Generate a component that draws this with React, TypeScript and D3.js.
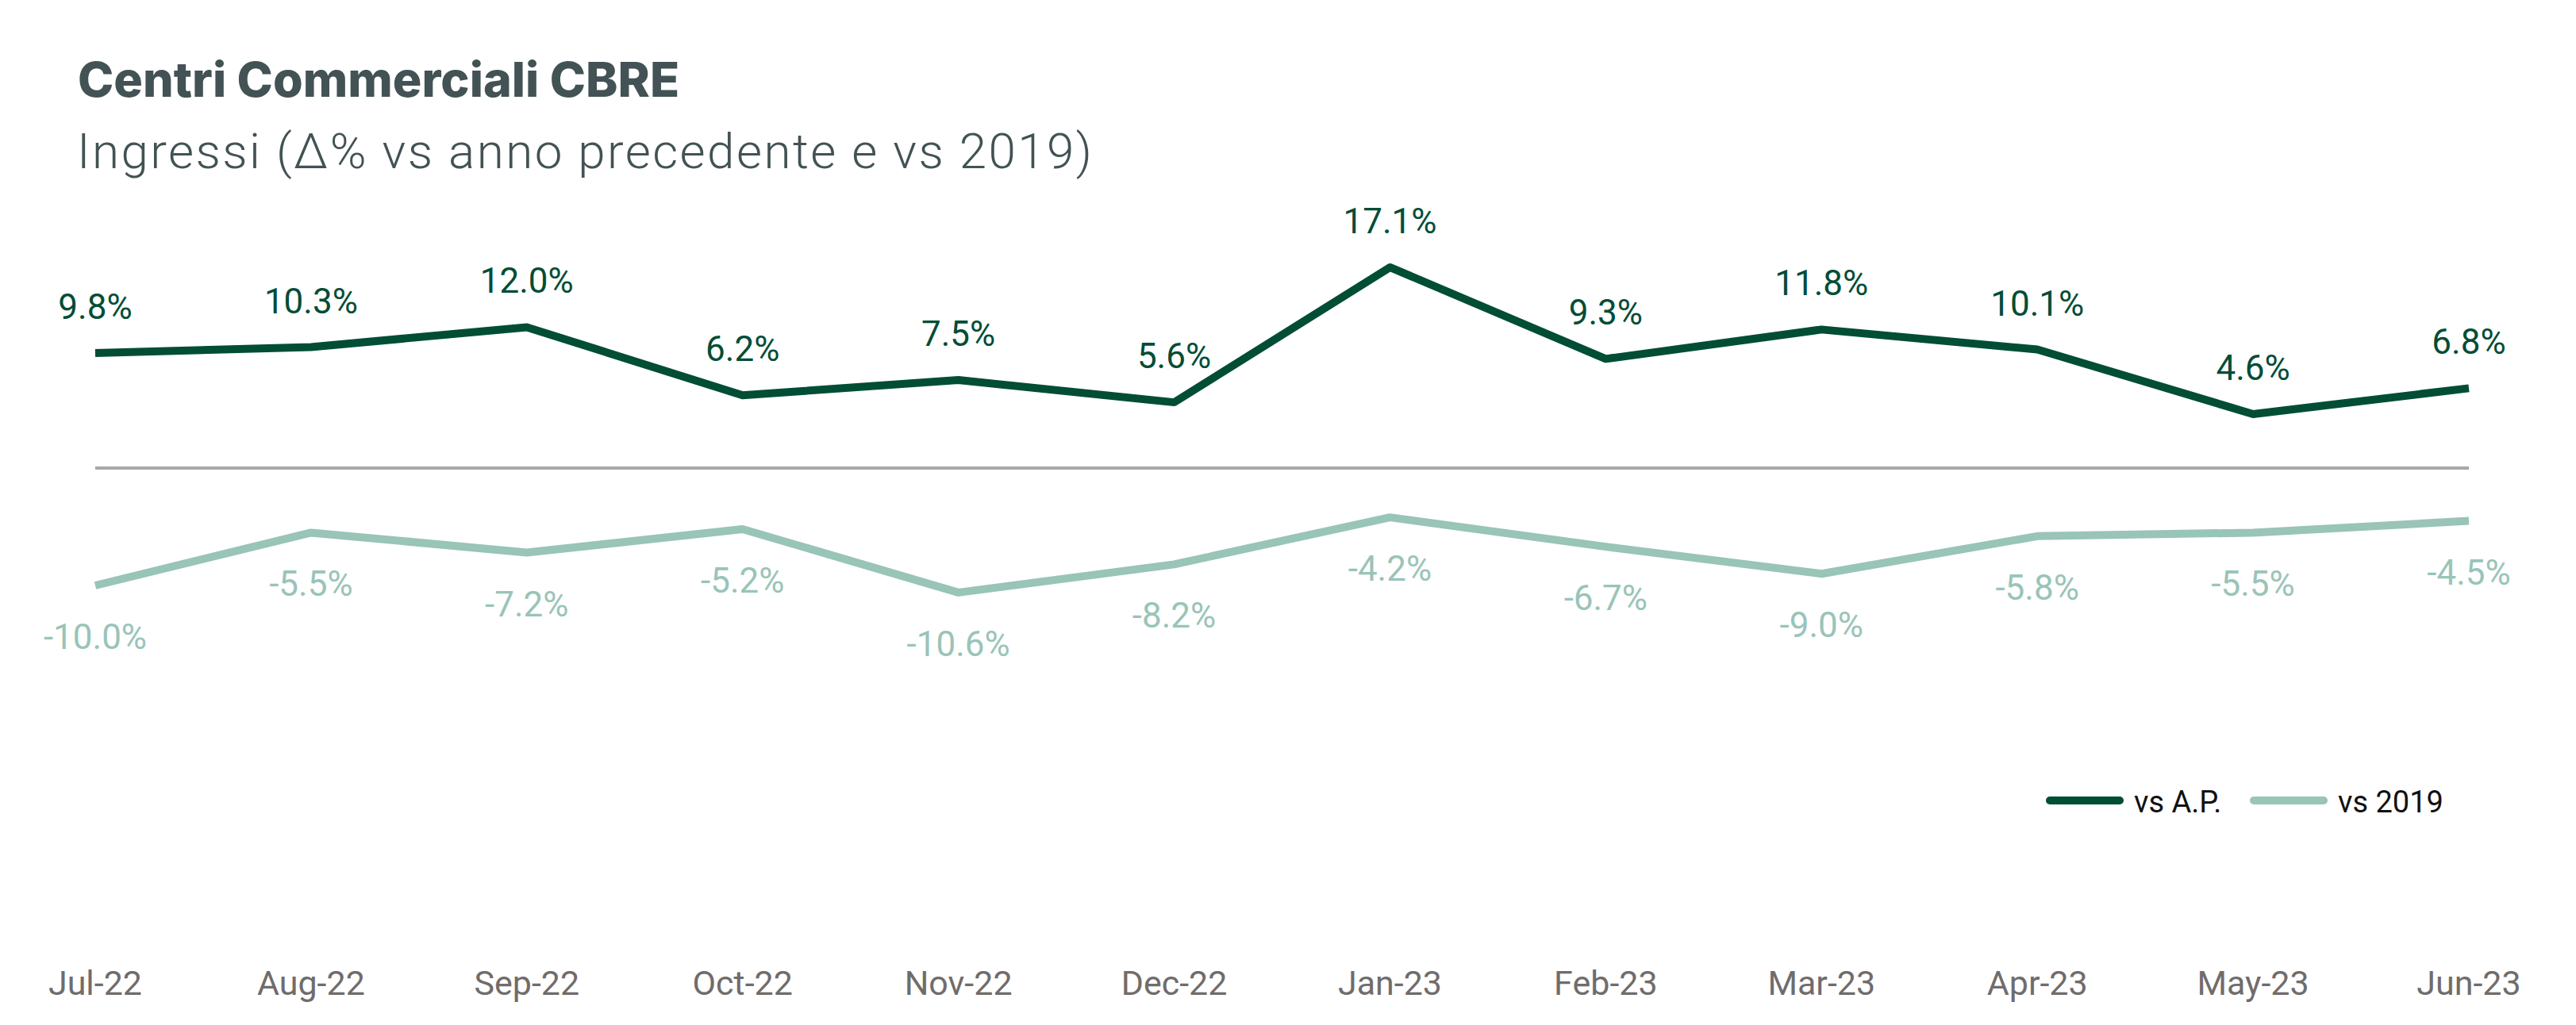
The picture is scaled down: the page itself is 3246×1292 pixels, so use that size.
import { useEffect, useRef } from 'react'
import * as d3 from 'd3'

// Chart data
const months = ['Jul-22', 'Aug-22', 'Sep-22', 'Oct-22', 'Nov-22', 'Dec-22', 'Jan-23', 'Feb-23', 'Mar-23', 'Apr-23', 'May-23', 'Jun-23']
const vsAP = [9.8, 10.3, 12.0, 6.2, 7.5, 5.6, 17.1, 9.3, 11.8, 10.1, 4.6, 6.8]
const vs2019 = [-10.0, -5.5, -7.2, -5.2, -10.6, -8.2, -4.2, -6.7, -9.0, -5.8, -5.5, -4.5]
const seriesNames = ['vs A.P.', 'vs 2019']

const W = 3246
const H = 1292
const DARK = '#024d36'
const LIGHT = '#99c4b8'
const FONT = "Roboto, 'Noto Sans', sans-serif"

export default function App() {
  const svgRef = useRef<SVGSVGElement>(null)

  useEffect(() => {
    document.body.style.margin = '0'
    if (!svgRef.current) return
    const svg = d3.select(svgRef.current)
    svg.selectAll('*').remove()

    svg.append('rect').attr('width', W).attr('height', H).attr('fill', '#fff')

    // Titles
    svg.append('text')
      .attr('x', 98).attr('y', 122)
      .attr('font-family', "Inter, Roboto, sans-serif").attr('font-weight', 800)
      .attr('font-size', 61).attr('fill', '#435254')
      .text('Centri Commerciali CBRE')
    svg.append('text')
      .attr('x', 97).attr('y', 212)
      .attr('font-family', FONT).attr('font-weight', 300)
      .attr('font-size', 62).attr('letter-spacing', 2.4)
      .attr('fill', '#435254')
      .text('Ingressi (Δ% vs anno precedente e vs 2019)')

    // Scales
    const x = d3.scalePoint<string>().domain(months).range([120, 3111])
    const y = d3.scaleLinear().domain([-30, 25]).range([1034, 220])

    // Zero line
    svg.append('line')
      .attr('x1', x(months[0])!).attr('x2', x(months[months.length - 1])!)
      .attr('y1', y(0)).attr('y2', y(0))
      .attr('stroke', '#aaa8a8').attr('stroke-width', 4)

    const line = d3.line<number>()
      .x((_, i) => x(months[i])!)
      .y(d => y(d))

    const series = [
      { values: vsAP, color: DARK, above: true },
      { values: vs2019, color: LIGHT, above: false },
    ]

    series.forEach(s => {
      svg.append('path')
        .datum(s.values)
        .attr('d', line)
        .attr('fill', 'none')
        .attr('stroke', s.color)
        .attr('stroke-width', 10)
        .attr('stroke-linejoin', 'round')

      svg.append('g')
        .selectAll('text')
        .data(s.values)
        .join('text')
        .attr('x', (_, i) => x(months[i])!)
        .attr('y', d => s.above ? y(d) - 43 : y(d) + 80)
        .attr('text-anchor', 'middle')
        .attr('font-family', FONT)
        .attr('font-size', 44)
        .attr('fill', s.color)
        .text(d => `${d.toFixed(1)}%`)
    })

    // X axis labels
    svg.append('g')
      .selectAll('text')
      .data(months)
      .join('text')
      .attr('x', d => x(d)!)
      .attr('y', 1254)
      .attr('text-anchor', 'middle')
      .attr('font-family', FONT)
      .attr('font-size', 43)
      .attr('fill', '#706c6b')
      .text(d => d)

    // Legend
    const legend = [
      { name: seriesNames[0], color: DARK, x0: 2583 },
      { name: seriesNames[1], color: LIGHT, x0: 2840 },
    ]
    const lg = svg.append('g')
    legend.forEach(l => {
      lg.append('line')
        .attr('x1', l.x0).attr('x2', l.x0 + 88)
        .attr('y1', 1009).attr('y2', 1009)
        .attr('stroke', l.color).attr('stroke-width', 10)
        .attr('stroke-linecap', 'round')
      lg.append('text')
        .attr('x', l.x0 + 106).attr('y', 1024)
        .attr('font-family', FONT).attr('font-size', 38)
        .attr('fill', '#111')
        .text(l.name)
    })
  }, [])

  return <svg ref={svgRef} width={W} height={H} style={{ display: 'block' }} />
}
